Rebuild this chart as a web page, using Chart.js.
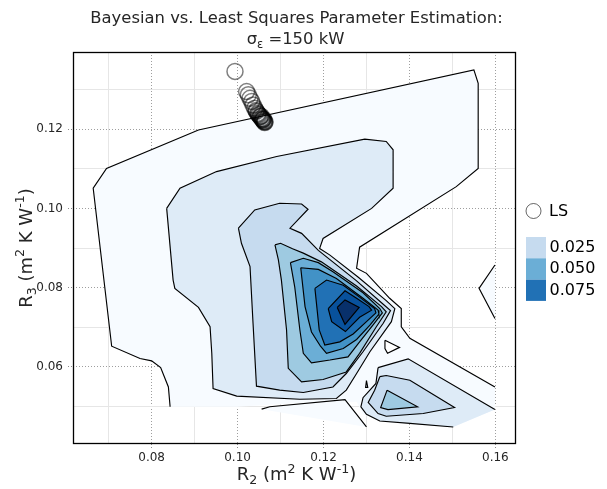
<!DOCTYPE html>
<html>
<head>
<meta charset="utf-8">
<script src="https://cdn.jsdelivr.net/npm/chart.js@4.4.1/dist/chart.umd.min.js"></script>
<style>
  html, body { margin: 0; padding: 0; background: #ffffff; }
  #wrap { width: 607px; height: 489px; }
</style>
</head>
<body>
<div id="wrap"><canvas id="c" width="607" height="489"></canvas></div>
<script>
// ---- axis ticks ----------------------------------------------------------
const xTickLabels = ['0.08', '0.10', '0.12', '0.14', '0.16'];
const yTickLabels = ['0.06', '0.08', '0.10', '0.12'];

// ---- legend --------------------------------------------------------------
const levelLabels = ['0.025', '0.050', '0.075'];
const levelColors = ['#c6dbef', '#6baed6', '#2171b5'];
const pointLabel = 'LS';

// ---- least-squares estimates (R2, R3) ------------------------------------
const lsR2 = [0.0994, 0.1021, 0.1025, 0.1029, 0.1033, 0.1036, 0.1040, 0.1043, 0.1044,
              0.1047, 0.1048, 0.1050, 0.1052, 0.1053, 0.1055, 0.1056, 0.1057, 0.1058,
              0.1059, 0.1060, 0.1061, 0.1062, 0.1063, 0.1064];
const lsR3 = [0.1346, 0.1295, 0.1287, 0.1278, 0.1270, 0.1261, 0.1253, 0.1247, 0.1245,
              0.1240, 0.1238, 0.1236, 0.1233, 0.1231, 0.1233, 0.1228, 0.1226, 0.1224,
              0.1223, 0.1226, 0.1221, 0.1219, 0.1217, 0.1219];

// ---- posterior density bands: polygon vertices [R2, R3] -------------------
// a third entry of 0 marks an edge (to the next vertex) that lies on the
// edge of the sampled domain and therefore carries no contour line
const band1Outer = [
  [0.0843,0.0499],[0.0839,0.0549],[0.0821,0.0598],[0.0800,0.0615],[0.0773,0.0621],
  [0.0707,0.0652],[0.0664,0.1051],[0.0695,0.1101],[0.0909,0.1198],[0.1550,0.1350],
  [0.1560,0.1316],[0.1560,0.1101],[0.1509,0.1055],[0.1284,0.0902],[0.1277,0.0849],
  [0.1300,0.0836],[0.1354,0.0773],[0.1381,0.0747],[0.1381,0.0701],[0.1401,0.0672],
  [0.1599,0.0549,0],[0.1599,0.0492,0],[0.1502,0.0448,0],[0.1346,0.0460,0],
  [0.1292,0.0480,0],[0.1277,0.0512,0],[0.1153,0.0509,0],[0.0998,0.0499,0]
];
const band1Wedge = [[0.1599,0.0857],[0.1562,0.0798],[0.1599,0.0722,0]];
const band1Strip = [[0.1056,0.0493],[0.1075,0.0499],[0.1250,0.0517],[0.1300,0.0448,0]];
const band0Hole = [[0.1343,0.0667],[0.1377,0.0649],[0.1349,0.0634],[0.1343,0.0646]];
const band2Drop = [[0.1300,0.0565],[0.1303,0.0548],[0.1298,0.0548]];
const band2Main = [
  [0.0835,0.1000],[0.0866,0.1051],[0.0951,0.1093],[0.1091,0.1131],[0.1296,0.1175],
  [0.1346,0.1169],[0.1362,0.1148],[0.1362,0.1051],[0.1312,0.1000],[0.1199,0.0924],
  [0.1191,0.0899],[0.1215,0.0882],[0.1281,0.0826],[0.1346,0.0767],[0.1366,0.0747],
  [0.1358,0.0714],[0.1308,0.0638],[0.1277,0.0583],[0.1253,0.0541],[0.1230,0.0520],
  [0.1145,0.0518],[0.0998,0.0526],[0.0943,0.0545],[0.0940,0.0634],[0.0936,0.0701],
  [0.0909,0.0750],[0.0854,0.0798],[0.0850,0.0819]
];
const band2South = [
  [0.1327,0.0598],[0.1397,0.0620],[0.1599,0.0492,0],[0.1502,0.0448],[0.1401,0.0457],
  [0.1331,0.0463],[0.1300,0.0480],[0.1287,0.0499],[0.1292,0.0522],[0.1322,0.0558]
];
const band3Main = [
  [0.1002,0.0950],[0.1040,0.0996],[0.1098,0.1013],[0.1149,0.1011],[0.1164,0.0998],
  [0.1122,0.0950],[0.1149,0.0937],[0.1188,0.0894],[0.1277,0.0817],[0.1339,0.0758],
  [0.1356,0.0742],[0.1339,0.0710],[0.1292,0.0638],[0.1253,0.0583],[0.1222,0.0549],
  [0.1153,0.0535],[0.1098,0.0541],[0.1044,0.0551],[0.1036,0.0710],[0.1029,0.0853],
  [0.1009,0.0912]
];
const band3South = [
  [0.1331,0.0575],[0.1346,0.0578],[0.1401,0.0566],[0.1505,0.0497],[0.1432,0.0482],
  [0.1346,0.0475],[0.1327,0.0482],[0.1304,0.0510],[0.1319,0.0541]
];
const band4Main = [
  [0.1087,0.0908],[0.1100,0.0912],[0.1128,0.0898],[0.1153,0.0887],[0.1195,0.0865],
  [0.1277,0.0804],[0.1335,0.0752],[0.1346,0.0739],[0.1323,0.0701],[0.1284,0.0634],
  [0.1253,0.0587],[0.1199,0.0568],[0.1149,0.0562],[0.1118,0.0596],[0.1114,0.0693],
  [0.1102,0.0819],[0.1095,0.0870]
];
const band4South = [[0.1348,0.0541],[0.1419,0.0499],[0.1350,0.0492],[0.1333,0.0497]];
const band5 = [
  [0.1123,0.0863],[0.1153,0.0874],[0.1188,0.0863],[0.1222,0.0840],[0.1292,0.0787],
  [0.1331,0.0747],[0.1337,0.0736],[0.1315,0.0705],[0.1284,0.0663],[0.1257,0.0625],
  [0.1215,0.0617],[0.1172,0.0610],[0.1153,0.0634],[0.1145,0.0693],[0.1133,0.0802]
];
const band6 = [
  [0.1147,0.0850],[0.1188,0.0846],[0.1230,0.0823],[0.1292,0.0773],[0.1327,0.0743],
  [0.1329,0.0733],[0.1308,0.0705],[0.1277,0.0669],[0.1246,0.0646],[0.1207,0.0634],
  [0.1193,0.0652],[0.1172,0.0688],[0.1157,0.0752]
];
const band7 = [
  [0.1180,0.0798],[0.1207,0.0819],[0.1246,0.0806],[0.1284,0.0776],[0.1319,0.0747],
  [0.1322,0.0736],[0.1300,0.0714],[0.1269,0.0683],[0.1238,0.0663],[0.1203,0.0655],
  [0.1190,0.0693]
];
const band8 = [
  [0.1211,0.0747],[0.1250,0.0792],[0.1277,0.0773],[0.1306,0.0752],[0.1312,0.0743],
  [0.1284,0.0725],[0.1251,0.0689],[0.1219,0.0714]
];
const band9 = [[0.1232,0.0750],[0.1250,0.0769],[0.1283,0.0750],[0.1250,0.0707]];

// Blues palette, light to dark
const blues = ['#f7fbff', '#deebf7', '#c6dbef', '#9ecae1', '#6baed6',
               '#4292c6', '#2171b5', '#08519c', '#08306b'];

// painted bottom to top
const layers = [
  { pts: band1Outer, color: blues[0] },
  { pts: band1Wedge, color: blues[0] },
  { pts: band1Strip, color: blues[0] },
  { pts: band0Hole,  color: '#ffffff' },
  { pts: band2Drop,  color: blues[1] },
  { pts: band2Main,  color: blues[1] },
  { pts: band2South, color: blues[1] },
  { pts: band3Main,  color: blues[2] },
  { pts: band3South, color: blues[2] },
  { pts: band4Main,  color: blues[3] },
  { pts: band4South, color: blues[3] },
  { pts: band5,      color: blues[4] },
  { pts: band6,      color: blues[5] },
  { pts: band7,      color: blues[6] },
  { pts: band8,      color: blues[7] },
  { pts: band9,      color: blues[8] }
];

const FONT = '"DejaVu Sans", "Noto Sans", sans-serif';
const INK = '#262626';
Chart.defaults.font.family = FONT;

const datasets = [];
layers.forEach((layer, i) => {
  const toPts = () => {
    const d = layer.pts.map(p => ({ x: p[0], y: p[1] }));
    d.push({ x: layer.pts[0][0], y: layer.pts[0][1] });
    return d;
  };
  const open = layer.pts.map(p => p[2] === 0);
  datasets.push({
    data: toPts(), showLine: true, fill: 'shape',
    backgroundColor: layer.color, borderColor: 'rgba(0,0,0,0)', borderWidth: 0,
    pointRadius: 0, pointHoverRadius: 0, order: 1000 - i
  });
  datasets.push({
    data: toPts(), showLine: true, fill: false,
    borderColor: '#000000', borderWidth: 1.15, backgroundColor: 'rgba(0,0,0,0)',
    pointRadius: 0, pointHoverRadius: 0, order: 500 - i,
    segment: { borderColor: c => open[c.p0DataIndex] ? 'rgba(0,0,0,0)' : '#000000' }
  });
});
datasets.push({
  label: pointLabel,
  data: lsR2.map((x, i) => ({ x: x, y: lsR3[i] })),
  showLine: false,
  pointRadius: 8, pointHoverRadius: 8, pointBorderWidth: 1.5,
  pointBorderColor: 'rgba(0,0,0,0.5)', pointBackgroundColor: 'rgba(0,0,0,0)',
  order: 0
});

const isMajor = v => Math.abs(v * 50 - Math.round(v * 50)) < 1e-6;
const labelFor = (list, v) => {
  const hit = list.find(s => Math.abs(parseFloat(s) - v) < 1e-6);
  return hit === undefined ? '' : hit;
};
const gridColor = c => (c.tick && isMajor(c.tick.value)) ? 'rgba(0,0,0,0.38)' : '#e6e6e6';
const tickColor = c => (c.tick && isMajor(c.tick.value)) ? 'rgba(0,0,0,0.45)' : 'rgba(0,0,0,0)';
const gridDash = c => (c.tick && isMajor(c.tick.value)) ? [1, 2] : [];

// rich text: pieces {t, s} with s = 'sub' | 'sup' | undefined
function richWidth(ctx, parts, size) {
  let w = 0;
  for (const p of parts) {
    ctx.font = (p.s ? size * 0.7 : size) + 'px ' + FONT;
    w += ctx.measureText(p.t).width;
  }
  return w;
}
function drawRich(ctx, parts, cx, cy, size) {
  let x = cx - richWidth(ctx, parts, size) / 2;
  const base = cy + size * 0.365;
  ctx.textAlign = 'left';
  ctx.textBaseline = 'alphabetic';
  for (const p of parts) {
    ctx.font = (p.s ? size * 0.7 : size) + 'px ' + FONT;
    const dy = p.s === 'sub' ? size * 0.24 : (p.s === 'sup' ? -size * 0.4 : 0);
    ctx.fillText(p.t, x, base + dy);
    x += ctx.measureText(p.t).width;
  }
}

const framePlugin = {
  id: 'frame',
  afterDatasetsDraw(chart) {
    const { ctx, chartArea: a } = chart;
    ctx.save();
    ctx.strokeStyle = '#000000';
    ctx.lineWidth = 1.3;
    ctx.strokeRect(a.left + 0.5, a.top + 0.5, a.right - a.left - 1, a.bottom - a.top - 1);
    ctx.restore();
  }
};

const textPlugin = {
  id: 'texts',
  afterDraw(chart) {
    const { ctx, chartArea: a } = chart;
    const cx = (a.left + a.right) / 2;
    ctx.save();
    ctx.fillStyle = INK;
    drawRich(ctx, [{ t: 'Bayesian vs. Least Squares Parameter Estimation:' }], cx + 2, 17, 16.4);
    drawRich(ctx, [{ t: 'σ' }, { t: 'ε', s: 'sub' }, { t: ' =150 kW' }], cx + 1, 38.5, 16.4);

    const unit = [{ t: ' (m' }, { t: '2', s: 'sup' }, { t: ' K W' }, { t: '-1', s: 'sup' }, { t: ')' }];
    drawRich(ctx, [{ t: 'R' }, { t: '2', s: 'sub' }].concat(unit), cx + 2, 473.5, 18);
    ctx.save();
    ctx.translate(25, (a.top + a.bottom) / 2);
    ctx.rotate(-Math.PI / 2);
    drawRich(ctx, [{ t: 'R' }, { t: '3', s: 'sub' }].concat(unit), 0, 0, 18);
    ctx.restore();

    // legend: estimate marker
    ctx.strokeStyle = 'rgba(0,0,0,0.6)';
    ctx.lineWidth = 1;
    ctx.beginPath();
    ctx.arc(533.5, 211, 7.5, 0, Math.PI * 2);
    ctx.stroke();
    ctx.fillStyle = '#000000';
    ctx.font = '16px ' + FONT;
    ctx.textAlign = 'left';
    ctx.textBaseline = 'middle';
    ctx.fillText(pointLabel, 549, 211.5);

    // legend: density levels
    levelLabels.forEach((lab, i) => {
      const y0 = 237 + i * 21.3;
      ctx.fillStyle = levelColors[i];
      ctx.fillRect(526, y0, 20, 21.3);
      ctx.fillStyle = '#000000';
      ctx.fillText(lab, 549.5, y0 + 11);
    });
    ctx.restore();
  }
};

new Chart(document.getElementById('c'), {
  type: 'scatter',
  data: { datasets: datasets },
  options: {
    responsive: false,
    animation: false,
    events: [],
    layout: { padding: { left: 0, right: 91, top: 52, bottom: 0 } },
    plugins: { legend: { display: false }, tooltip: { enabled: false }, title: { display: false } },
    scales: {
      x: {
        type: 'linear', min: 0.0617, max: 0.1648,
        ticks: {
          stepSize: 0.01, includeBounds: false, autoSkip: false, maxRotation: 0,
          padding: 2, color: INK, font: { size: 12, family: FONT },
          callback: v => labelFor(xTickLabels, v)
        },
        grid: { color: gridColor, lineWidth: 1, drawTicks: true, tickLength: 5,
                tickColor: tickColor, tickBorderDash: [1, 2] },
        border: { display: false, dash: gridDash },
        afterFit: s => { s.height = 45; }
      },
      y: {
        type: 'linear', min: 0.0405, max: 0.1395,
        ticks: {
          stepSize: 0.01, includeBounds: false, autoSkip: false,
          padding: 5, color: INK, font: { size: 12, family: FONT },
          callback: v => labelFor(yTickLabels, v)
        },
        grid: { color: gridColor, lineWidth: 1, drawTicks: true, tickLength: 5,
                tickColor: tickColor, tickBorderDash: [1, 2] },
        border: { display: false, dash: gridDash },
        afterFit: s => { s.width = 73; }
      }
    }
  },
  plugins: [framePlugin, textPlugin]
});
</script>
</body>
</html>
